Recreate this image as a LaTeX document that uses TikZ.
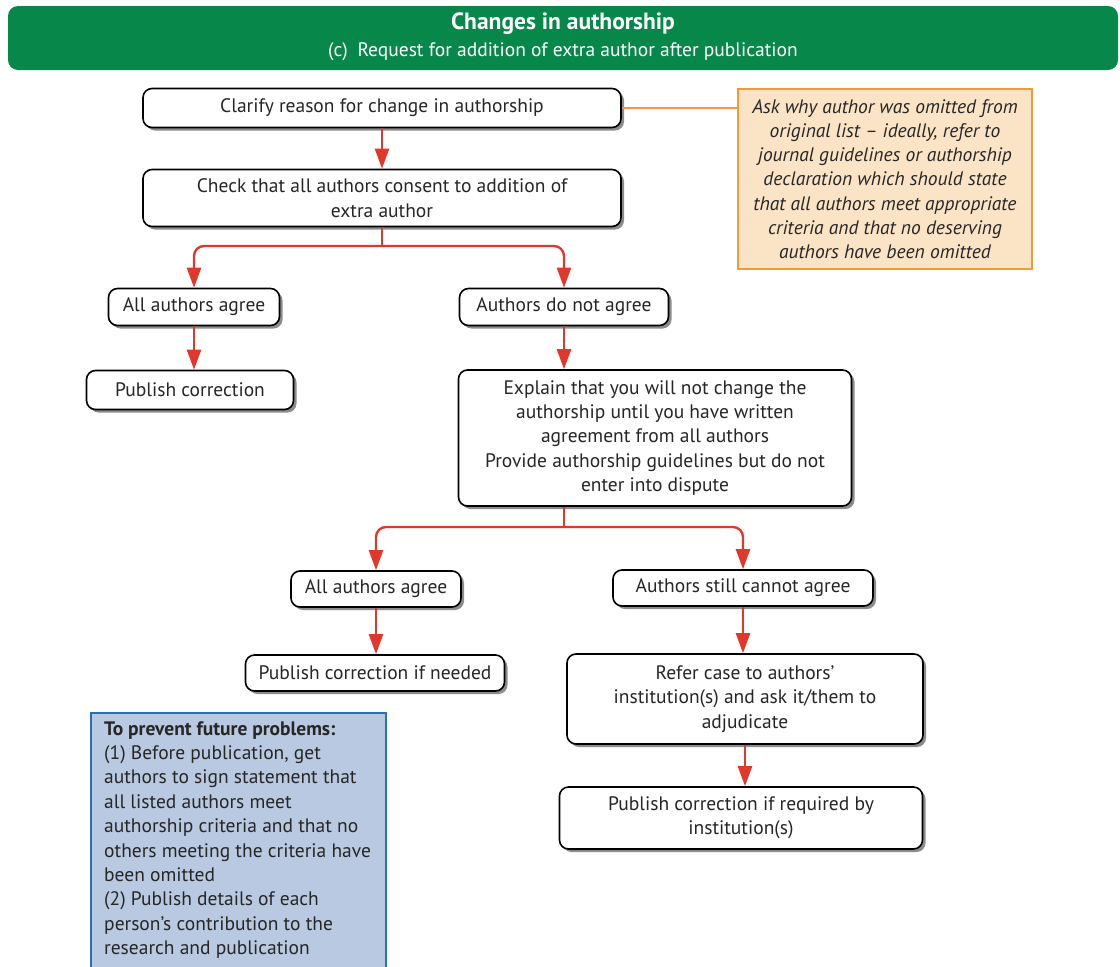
\documentclass[tikz,border=0pt]{standalone}
\usepackage{fontspec}
\setmainfont{PT Sans}
\usepackage{xcolor}
\usetikzlibrary{
  arrows.meta,
  shadows
}

\definecolor{headgreen}{HTML}{08874B}
\definecolor{flowred}{HTML}{E0392B}
\definecolor{noteorange}{HTML}{F29A38}
\definecolor{notefill}{HTML}{FBE3C6}
\definecolor{tipblue}{HTML}{2A6EB5}
\definecolor{tipfill}{HTML}{B8C9E1}

\begin{document}
\begin{tikzpicture}[
        x=1pt,y=-1pt,
        txt/.style={
            font=\fontsize{19.5}{24.4}\selectfont,
            text=black!85
          },
        box/.style={
            txt,
            draw=black,
            line width=1.6pt,
            rounded corners=9pt,
            fill=white,
            align=center,
            inner sep=0pt,
            drop shadow={
                shadow xshift=3pt,
                shadow yshift=-3pt,
                fill=black!45,
                opacity=1
              }
          },
        flow/.style={
            draw=flowred,
            line width=2.4pt,
            -{Triangle[length=20pt,width=14pt]}
          },
        stem/.style={
            draw=flowred,
            line width=2.4pt
          }
      ]
      \useasboundingbox (0,0) rectangle (1120,967);

      % 見出し
      \node[
        fill=headgreen,
        rounded corners=10pt,
        minimum width=1110pt,
        minimum height=64pt,
        inner sep=0pt
      ] (head) at (563,38) {};
      \node[text=white, font=\bfseries\fontsize{23.5}{27}\selectfont] (title) at (563,24)
        {Changes in authorship};
      \node[text=white, font=\fontsize{19.5}{24}\selectfont] (subtitle) at (563,52)
        {(c)\enspace Request for addition of extra author after publication};

      % 左の流れ
      \node[box, minimum width=478pt, minimum height=39pt] (clarify) at (382,108)
        {Clarify reason for change in authorship};
      \node[box, minimum width=478pt, minimum height=57pt] (consent) at (382,198)
        {Check that all authors consent to addition of\\extra author};
      \node[box, minimum width=171pt, minimum height=37pt] (agreeA) at (194,307)
        {All authors agree};
      \node[box, minimum width=207pt, minimum height=39pt] (pubA) at (190,390)
        {Publish correction};
      \node[box, minimum width=209pt, minimum height=37pt] (disagree) at (564,307)
        {Authors do not agree};
      \node[box, minimum width=393pt, minimum height=136pt] (explain) at (655,438)
        {Explain that you will not change the\\authorship until you have written\\agreement from all authors\\
         Provide authorship guidelines but do not\\enter into dispute};

      % 二段目の分岐
      \node[box, minimum width=170pt, minimum height=36pt] (agreeB) at (376,589)
        {All authors agree};
      \node[box, minimum width=259pt, minimum height=36pt] (pubB) at (375,673)
        {Publish correction if needed};
      \node[box, minimum width=260pt, minimum height=36pt] (stuck) at (743,588)
        {Authors still cannot agree};
      \node[box, minimum width=356pt, minimum height=90pt] (refer) at (745,699)
        {Refer case to authors’\\institution(s) and ask it/them to\\adjudicate};
      \node[box, minimum width=363pt, minimum height=62pt] (pubC) at (741,818)
        {Publish correction if required by\\institution(s)};

      % 注記
      \node[
        txt,
        draw=noteorange,
        line width=1.6pt,
        fill=notefill,
        minimum width=294pt,
        minimum height=180pt,
        align=center,
        inner sep=0pt,
        font=\fontsize{19.5}{24.2}\selectfont\itshape
      ] (note) at (885,179)
        {Ask why author was omitted from\\original list – ideally, refer to\\journal guidelines or authorship\\
         declaration which should state\\that all authors meet appropriate\\criteria and that no deserving\\
         authors have been omitted};
      \draw[noteorange, line width=2pt] (clarify.east) -- (clarify.east -| note.west);

      \draw[draw=tipblue, fill=tipfill, line width=1.6pt] (91,713) rectangle (386,990);
      \node[txt, anchor=north west, align=left, inner sep=0pt] (tip) at (104,721)
        {\textbf{To prevent future problems:}\\
         (1) Before publication, get\\authors to sign statement that\\all listed authors meet\\
         authorship criteria and that no\\others meeting the criteria have\\been omitted\\
         (2) Publish details of each\\person’s contribution to the\\research and publication};

      % 矢印
      \coordinate (split1) at (382,246);
      \coordinate (split2) at (564,527);
      \draw[flow] (clarify) -- (consent);
      \draw[stem] (consent.south) -- (split1);
      \draw[flow, rounded corners=10pt] (split1) -| (agreeA.north);
      \draw[flow, rounded corners=10pt] (split1) -| (disagree.north);
      \draw[flow] (agreeA.south) -- (agreeA.south |- pubA.north);
      \draw[flow] (disagree.south) -- (disagree.south |- explain.north);
      \draw[stem] (split2 |- explain.south) -- (split2);
      \draw[flow, rounded corners=10pt] (split2) -| (agreeB.north);
      \draw[flow, rounded corners=10pt] (split2) -| (stuck.north);
      \draw[flow] (agreeB.south) -- (agreeB.south |- pubB.north);
      \draw[flow] (stuck.south) -- (stuck.south |- refer.north);
      \draw[flow] (refer.south) -- (refer.south |- pubC.north);

    \end{tikzpicture}
\end{document}
